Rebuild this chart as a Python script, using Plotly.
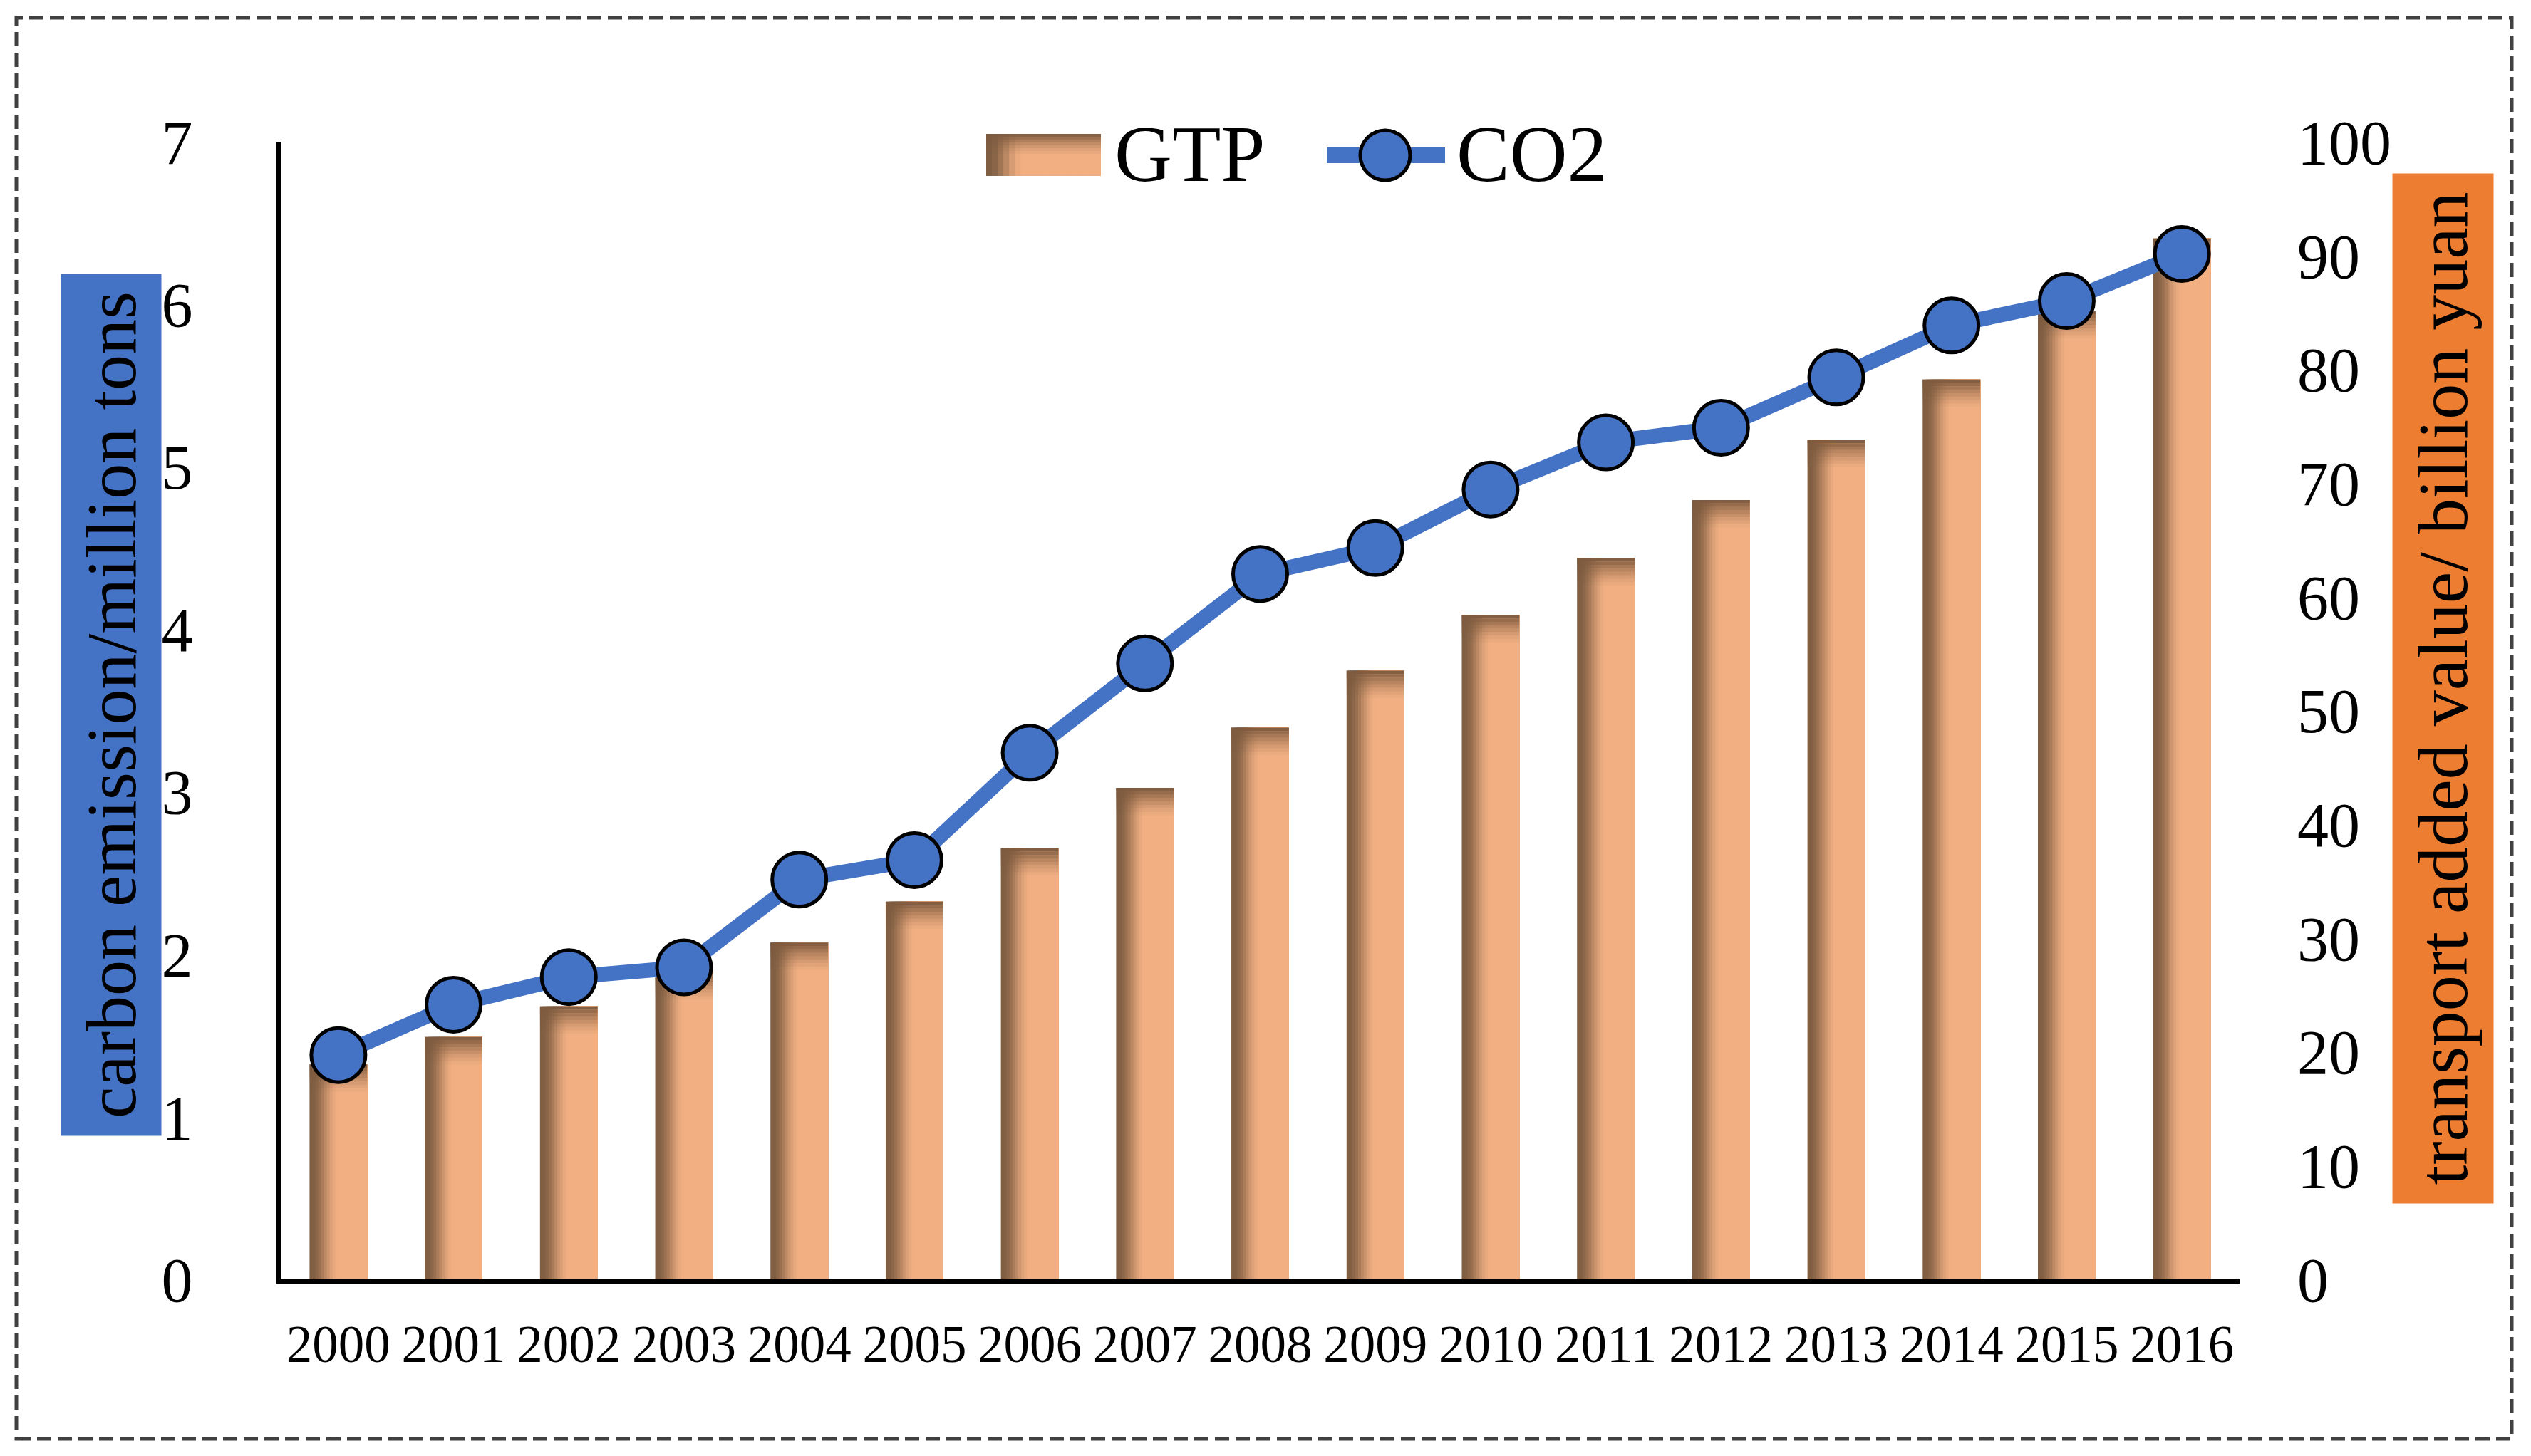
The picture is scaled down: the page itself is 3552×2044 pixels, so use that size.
import plotly.graph_objects as go

years = ["2000", "2001", "2002", "2003", "2004", "2005", "2006", "2007", "2008",
         "2009", "2010", "2011", "2012", "2013", "2014", "2015", "2016"]
co2 = [1.38, 1.69, 1.86, 1.92, 2.46, 2.58, 3.24, 3.79, 4.34, 4.50, 4.86, 5.15,
       5.24, 5.55, 5.87, 6.02, 6.31]
gtp = [18.9, 21.3, 24.0, 27.0, 29.6, 33.2, 37.9, 43.2, 48.5, 53.5, 58.4, 63.4,
       68.5, 73.8, 79.1, 85.1, 91.5]
left_ticks = [0, 1, 2, 3, 4, 5, 6, 7]
right_ticks = [0, 10, 20, 30, 40, 50, 60, 70, 80, 90, 100]

FONT = "Liberation Serif"
OFF = 8  # default page body margin
W, H = 3552 - 2 * OFF, 2044 - 2 * OFF
L, R, T, B = 394 - OFF, 3143 - OFF, 199 - OFF, 1796 - OFF
PW, PH = R - L, B - T

DARK = (128, 94, 66)
PEACH = (241, 175, 130)
BLUE = "#4472C4"
ORANGE = "#ED7D31"


def mix(t):
    t = max(0.0, min(1.0, t))
    t = t * t * (3 - 2 * t)
    return "rgb(%d,%d,%d)" % tuple(round(d + (p - d) * t) for d, p in zip(DARK, PEACH))


def px(x):
    return (x - OFF - L) / PW


def py(y):
    return (B - (y - OFF)) / PH


fig = go.Figure()

# bars with a horizontal gradient (nested strips)
BW = 0.5
N = 20
for i in range(N):
    p = (i + 0.5) / N
    off = -BW / 2 + i * BW / N
    fig.add_trace(go.Bar(
        x=years, y=gtp, width=BW - i * BW / N, offset=off,
        marker=dict(color=mix((p - 0.03) / 0.47), line=dict(width=0)),
        yaxis="y", showlegend=False, hoverinfo="skip", name="GTP"))

# darker top band
M = 8
hb = 0.3
for j in range(M):
    a = 0.95 * (1 - j / M) ** 1.4
    fig.add_trace(go.Bar(
        x=years, y=[hb] * len(gtp), base=[v - (j + 1) * hb for v in gtp],
        width=BW, offset=-BW / 2,
        marker=dict(color="rgba(125,90,62,%.3f)" % a, line=dict(width=0)),
        yaxis="y", showlegend=False, hoverinfo="skip"))

fig.add_trace(go.Scatter(
    x=years, y=co2, mode="lines+markers", name="CO2", yaxis="y2",
    line=dict(color=BLUE, width=21),
    marker=dict(size=76, color=BLUE, line=dict(color="black", width=5)),
    showlegend=False, hoverinfo="skip"))

shapes = []
# outer dashed border
shapes.append(dict(type="rect", xref="paper", yref="paper",
                   x0=px(23), x1=px(3525), y0=py(2020), y1=py(25),
                   line=dict(color="#404040", width=5, dash="20px,9px"),
                   fillcolor="rgba(0,0,0,0)", layer="below"))

# legend: GTP swatch
lx0, lx1, ly0, ly1 = 1384, 1545, 188, 247
NS = 20
sw = (lx1 - lx0) / NS
for i in range(NS):
    p = (i + 0.5) / NS
    shapes.append(dict(type="rect", xref="paper", yref="paper",
                       x0=px(lx0 + i * sw), x1=px(lx1), y0=py(ly1), y1=py(ly0),
                       line=dict(width=0), fillcolor=mix((p - 0.02) / 0.3)))
band = 4
for j in range(7):
    a = 0.9 * (1 - j / 7) ** 1.4
    shapes.append(dict(type="rect", xref="paper", yref="paper",
                       x0=px(lx0), x1=px(lx1), y0=py(ly0 + (j + 1) * band), y1=py(ly0 + j * band),
                       line=dict(width=0), fillcolor="rgba(125,90,62,%.3f)" % a))
# legend: CO2 line + marker
cy = 218
shapes.append(dict(type="line", xref="paper", yref="paper",
                   x0=px(1862), x1=px(2028), y0=py(cy), y1=py(cy),
                   line=dict(color=BLUE, width=22)))
shapes.append(dict(type="circle", xref="paper", yref="paper",
                   xsizemode="pixel", ysizemode="pixel",
                   xanchor=px(1944), yanchor=py(cy),
                   x0=-35, x1=35, y0=-35, y1=35,
                   fillcolor=BLUE, line=dict(color="black", width=5)))

annotations = [
    dict(text="GTP", xref="paper", yref="paper", x=px(1562), y=py(216),
         xanchor="left", yanchor="middle", showarrow=False,
         font=dict(family=FONT, size=112, color="black")),
    dict(text="CO2", xref="paper", yref="paper", x=px(2042), y=py(216),
         xanchor="left", yanchor="middle", showarrow=False,
         font=dict(family=FONT, size=112, color="black")),
    dict(text="carbon emission/million tons", xref="paper", yref="paper",
         x=px(156), y=py(990), xanchor="center", yanchor="middle",
         textangle=-90, showarrow=False, bgcolor=BLUE,
         width=1209, height=140, borderpad=0,
         font=dict(family=FONT, size=100, color="black")),
    dict(text="transport added value/ billion yuan", xref="paper", yref="paper",
         x=px(3429), y=py(967), xanchor="center", yanchor="middle",
         textangle=-90, showarrow=False, bgcolor=ORANGE,
         width=1445, height=141, borderpad=0,
         font=dict(family=FONT, size=100, color="black")),
]

fig.update_layout(
    width=W, height=H,
    margin=dict(l=L, r=W - R, t=T, b=H - B, autoexpand=False),
    paper_bgcolor="white", plot_bgcolor="white",
    barmode="overlay", bargap=0.5,
    showlegend=False,
    font=dict(family=FONT, color="black"),
    xaxis=dict(type="category", range=[-0.5, 16.5], showline=True,
               linecolor="black", linewidth=6, showgrid=False, zeroline=False,
               ticks="", tickfont=dict(family=FONT, size=73, color="black"),
               ticklabelstandoff=22),
    yaxis=dict(side="right", range=[0, 100], tickvals=right_ticks,
               showline=False, showgrid=False, zeroline=False, ticks="",
               tickfont=dict(family=FONT, size=88, color="black"),
               ticklabelstandoff=80),
    yaxis2=dict(side="left", overlaying="y", range=[0, 7], tickvals=left_ticks,
                showline=True, linecolor="black", linewidth=6, showgrid=False,
                zeroline=False, ticks="",
                tickfont=dict(family=FONT, size=88, color="black"),
                ticklabelstandoff=100),
    shapes=shapes,
    annotations=annotations,
)

fig.write_html("out.html")
